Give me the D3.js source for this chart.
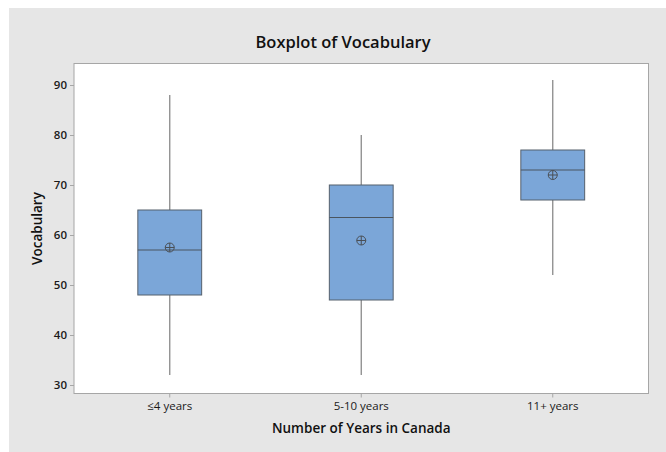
<!DOCTYPE html>
<html>
<head>
<meta charset="utf-8">
<script src="https://cdn.jsdelivr.net/npm/d3@7"></script>
<style>
  body { margin: 0; background: #fff; }
  svg { display: block; font-family: "Open Sans", "Noto Sans", sans-serif; }
</style>
</head>
<body>
<div id="wrapper"></div>
<script>
const categories = ["≤4 years", "5-10 years", "11+ years"]
const whiskerLow = [32, 32, 52]
const q1 = [48, 47, 67]
const median = [57, 63.5, 73]
const q3 = [65, 70, 77]
const whiskerHigh = [88, 80, 91]
const means = [57.5, 58.9, 72]
const yTicks = [30, 40, 50, 60, 70, 80, 90]

function drawBoxplot() {
  const dimensions = {
    width: 666,
    height: 452,
    panel: { x: 9, y: 8 },
    plot: { left: 74, right: 648.5, top: 63.5, bottom: 393.5 },
  }
  const fontFamily = '"Open Sans", "Noto Sans", sans-serif'

  const data = categories.map((c, i) => ({
    cat: c,
    lo: whiskerLow[i], q1: q1[i], med: median[i], q3: q3[i], hi: whiskerHigh[i], mean: means[i],
  }))

  const svg = d3.select("#wrapper")
    .append("svg")
      .attr("width", dimensions.width)
      .attr("height", dimensions.height)

  // gray panel
  svg.append("rect")
    .attr("x", dimensions.panel.x)
    .attr("y", dimensions.panel.y)
    .attr("width", dimensions.width - dimensions.panel.x)
    .attr("height", dimensions.height - dimensions.panel.y)
    .attr("fill", "#e6e6e6")

  const p = dimensions.plot

  svg.append("rect")
    .attr("x", p.left)
    .attr("y", p.top)
    .attr("width", p.right - p.left)
    .attr("height", p.bottom - p.top)
    .attr("fill", "#fff")
    .attr("stroke", "#a6a6a6")
    .attr("stroke-width", 1)

  const yScale = d3.scaleLinear()
    .domain([28.3, 94.3])
    .range([p.bottom, p.top])

  const xScale = d3.scaleBand()
    .domain(categories)
    .range([p.left, p.right])
    .padding(0)

  const boxWidth = xScale.bandwidth() / 3
  const cx = d => xScale(d.cat) + xScale.bandwidth() / 2

  // axes
  const yAxis = svg.append("g")
    .attr("transform", `translate(${p.left},0)`)
    .call(d3.axisLeft(yScale).tickValues(yTicks).tickSize(4).tickPadding(3))
    .attr("font-family", fontFamily)
  yAxis.select(".domain").remove()
  yAxis.selectAll(".tick line").attr("stroke", "#a6a6a6")
  yAxis.selectAll(".tick text")
    .attr("fill", "#1a1a1a")
    .style("font-size", "11.5px")
    .style("font-weight", "600")

  const xAxis = svg.append("g")
    .attr("transform", `translate(0,${p.bottom})`)
    .call(d3.axisBottom(xScale).tickSize(4).tickPadding(4))
    .attr("font-family", fontFamily)
  xAxis.select(".domain").remove()
  xAxis.selectAll(".tick line").attr("stroke", "#a6a6a6")
  xAxis.selectAll(".tick text")
    .attr("fill", "#1a1a1a")
    .style("font-size", "11.5px")

  // boxes
  const boxes = svg.append("g").selectAll("g")
    .data(data)
    .join("g")

  boxes.append("line")
    .attr("x1", cx).attr("x2", cx)
    .attr("y1", d => yScale(d.hi)).attr("y2", d => yScale(d.q3))
    .attr("stroke", "#8a8a8a")
    .attr("stroke-width", 1.3)

  boxes.append("line")
    .attr("x1", cx).attr("x2", cx)
    .attr("y1", d => yScale(d.q1)).attr("y2", d => yScale(d.lo))
    .attr("stroke", "#8a8a8a")
    .attr("stroke-width", 1.3)

  boxes.append("rect")
    .attr("x", d => cx(d) - boxWidth / 2)
    .attr("y", d => yScale(d.q3))
    .attr("width", boxWidth)
    .attr("height", d => yScale(d.q1) - yScale(d.q3))
    .attr("fill", "#7ba6d8")
    .attr("stroke", "#55606c")
    .attr("stroke-width", 1)

  boxes.append("line")
    .attr("x1", d => cx(d) - boxWidth / 2)
    .attr("x2", d => cx(d) + boxWidth / 2)
    .attr("y1", d => yScale(d.med)).attr("y2", d => yScale(d.med))
    .attr("stroke", "#4a5560")
    .attr("stroke-width", 1)

  // mean symbol: circle with cross
  const r = 4.5
  boxes.append("circle")
    .attr("cx", cx)
    .attr("cy", d => yScale(d.mean))
    .attr("r", r)
    .attr("fill", "none")
    .attr("stroke", "#4a4f55")
    .attr("stroke-width", 1)
  boxes.append("line")
    .attr("x1", d => cx(d) - r).attr("x2", d => cx(d) + r)
    .attr("y1", d => yScale(d.mean)).attr("y2", d => yScale(d.mean))
    .attr("stroke", "#4a4f55")
  boxes.append("line")
    .attr("x1", cx).attr("x2", cx)
    .attr("y1", d => yScale(d.mean) - r).attr("y2", d => yScale(d.mean) + r)
    .attr("stroke", "#4a4f55")

  // titles
  svg.append("text")
    .attr("x", 343)
    .attr("y", 48)
    .attr("text-anchor", "middle")
    .attr("fill", "#111")
    .style("font-size", "16.5px")
    .style("font-weight", "600")
    .text("Boxplot of Vocabulary")

  svg.append("text")
    .attr("x", (p.left + p.right) / 2)
    .attr("y", 433)
    .attr("text-anchor", "middle")
    .attr("fill", "#111")
    .style("font-size", "13.5px")
    .style("font-weight", "600")
    .text("Number of Years in Canada")

  svg.append("text")
    .attr("transform", `translate(42,${(p.top + p.bottom) / 2}) rotate(-90)`)
    .attr("text-anchor", "middle")
    .attr("fill", "#111")
    .style("font-size", "13.5px")
    .style("font-weight", "600")
    .text("Vocabulary")
}

drawBoxplot()
</script>
</body>
</html>
